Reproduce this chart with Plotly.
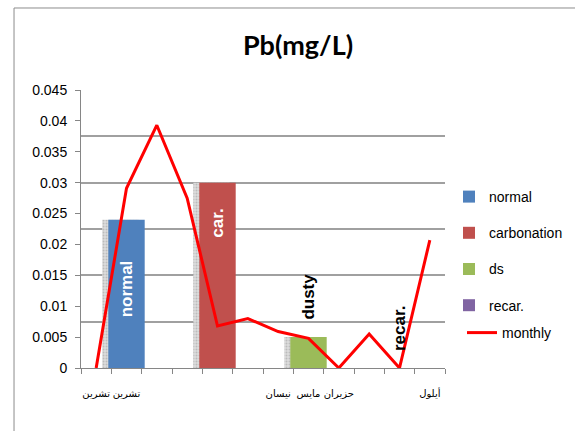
import plotly.graph_objects as go

# ---- data ----
months = ["تشرين", "تشرين", "", "", "", "", "نيسان", "مايس", "حزيران", "", "", "أيلول"]
monthly = [0.0, 0.0291, 0.0393, 0.0275, 0.0068, 0.0080, 0.0059, 0.0048, 0.0, 0.0055, 0.0, 0.0207]

bar_names = ["normal", "carbonation", "ds", "recar."]
bar_labels = ["normal", "car.", "dusty", "recar."]
bar_values = [0.024, 0.030, 0.005, 0.0]
bar_month = [1, 4, 7, 10]
bar_colors = ["#4f81bd", "#c0504d", "#9bbb59", "#8064a2"]

y_ticks = [0, 0.005, 0.01, 0.015, 0.02, 0.025, 0.03, 0.035, 0.04, 0.045]

BAR_W = 1.2
YMAX = 0.045

fig = go.Figure()

# 3D-like side shadow of each column
fig.add_trace(go.Bar(
    x=[m - 0.2 for m in bar_month], y=bar_values, width=BAR_W,
    marker=dict(color="rgba(200,200,200,0.9)", line=dict(width=0),
                pattern=dict(shape=".", fgcolor="#9a9a9a", bgcolor="#dcdcdc", size=3, solidity=0.35)),
    showlegend=False, hoverinfo="skip",
))

for i, name in enumerate(bar_names):
    fig.add_trace(go.Bar(
        x=[bar_month[i]], y=[bar_values[i]], width=BAR_W, name=name,
        marker=dict(color=bar_colors[i], line=dict(width=0)),
        legendgroup="g%d" % i, legend="legend",
    ))

fig.add_trace(go.Scatter(
    x=list(range(len(monthly))), y=monthly, mode="lines", name="monthly",
    line=dict(color="#ff0000", width=3), yaxis="y2", legend="legend2",
))

# bar labels
for i, lab in enumerate(bar_labels):
    v = bar_values[i]
    if i == 0:
        y, ya, ys, col = v / 2, "middle", 5, "white"
    elif i == 1:
        y, ya, ys, col = v, "top", -24, "white"
    else:
        y, ya, ys, col = v, "bottom", 15, "black"
    fig.add_annotation(
        x=bar_month[i], y=y, xref="x", yref="y", text="<b>%s</b>" % lab,
        textangle=-90, showarrow=False, yanchor=ya, xanchor="center", yshift=ys,
        font=dict(family="Liberation Sans, Arial", size=17, color=col),
    )

# outer frame (left and top edges visible)
fig.add_shape(type="line", xref="paper", yref="paper", x0=-0.184, x1=-0.184, y0=1.295, y1=-0.3,
              line=dict(color="#8c8c8c", width=1))
fig.add_shape(type="line", xref="paper", yref="paper", x0=-0.184, x1=1.4, y0=1.295, y1=1.295,
              line=dict(color="#8c8c8c", width=1))

fig.update_layout(
    width=575, height=431,
    margin=dict(l=81, r=130, t=90, b=63, autoexpand=False),
    paper_bgcolor="white", plot_bgcolor="white",
    barmode="overlay",
    title=dict(text="<b>Pb(mg/L)</b>", x=298 / 575, xref="container", xanchor="center",
               y=1 - 46 / 431, yref="container", yanchor="middle",
               font=dict(family="Lato, Liberation Sans", size=27, color="black")),
    xaxis=dict(range=[-0.5, 11.5], tickvals=list(range(len(months))), ticktext=months,
               ticks="", showgrid=False, zeroline=False, tickangle=0,
               showline=True, linecolor="#868686", linewidth=1,
               minor=dict(ticks="outside", tick0=-0.5, dtick=1, ticklen=5, tickcolor="#868686", showgrid=False),
               ticklabelstandoff=16,
               tickfont=dict(family="DejaVu Sans", size=10, color="black")),
    yaxis=dict(range=[0, YMAX], tickvals=y_ticks, ticktext=[("%g" % t) for t in y_ticks],
               showgrid=False, zeroline=False, showline=True, linecolor="#868686", linewidth=1,
               ticks="outside", ticklen=5, tickcolor="#868686", ticklabelstandoff=5,
               tickfont=dict(family="Liberation Sans, Arial", size=14, color="black")),
    yaxis2=dict(range=[0, YMAX], overlaying="y", side="left", showticklabels=False,
                dtick=0.0075, tick0=0, showgrid=True, gridcolor="#a0a0a0", gridwidth=2,
                zeroline=False, showline=False, ticks=""),
    legend=dict(x=(449 - 81) / 364, y=(368 - 181) / 278, xanchor="left", yanchor="top",
                traceorder="grouped", tracegroupgap=15,
                font=dict(family="Liberation Sans, Arial", size=14, color="black"),
                bgcolor="rgba(0,0,0,0)"),
    legend2=dict(x=(462 - 81) / 364, y=(368 - 333) / 278, xanchor="left", yanchor="middle",
                 font=dict(family="Liberation Sans, Arial", size=14, color="black"),
                 bgcolor="rgba(0,0,0,0)"),
    showlegend=True,
)

fig.write_html("out.html")
